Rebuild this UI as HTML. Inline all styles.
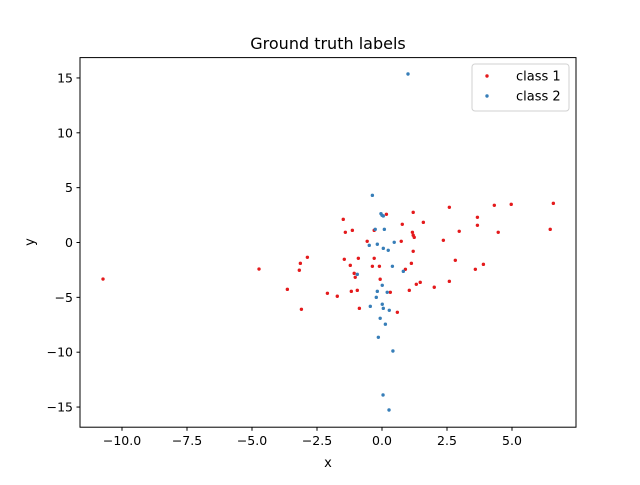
<!DOCTYPE html>
<html><head><meta charset="utf-8"><style>
body{margin:0;background:#fff;font-family:"Liberation Sans","DejaVu Sans",sans-serif;}
svg text{font-family:"DejaVu Sans","Liberation Sans",sans-serif;}
</style></head><body>
<svg id="chart" width="640" height="480" xmlns="http://www.w3.org/2000/svg">
<rect width="640" height="480" fill="#fff"/>
<text x="328" y="49" font-size="16" text-anchor="middle">Ground truth labels</text>
<g id="plot"></g>
<rect x="80" y="57.6" width="496" height="369.6" fill="none" stroke="#000" stroke-width="1"/>
<text x="328" y="467" font-size="13" text-anchor="middle">x</text>
<text x="34" y="242" font-size="13" text-anchor="middle" transform="rotate(-90 34 242)">y</text>
<g>
<rect x="472" y="64" width="97" height="47" rx="3" fill="#fff" stroke="#ccc" stroke-opacity="0.9"/>
<circle cx="487" cy="76" r="1.7" fill="#e41a1c"/>
<text x="516" y="80.5" font-size="13">class 1</text>
<circle cx="487" cy="96" r="1.7" fill="#377eb8"/>
<text x="516" y="100.5" font-size="13">class 2</text>
</g>
</svg>
<script>
const xTicks=[-10,-7.5,-5,-2.5,0,2.5,5];
const xTickLabels=["−10.0","−7.5","−5.0","−2.5","0.0","2.5","5.0"];
const yTicks=[-15,-10,-5,0,5,10,15];
const yTickLabels=["−15","−10","−5","0","5","10","15"];
const class1X=[0.17,1.20,2.59,-1.49,1.59,0.78,-1.41,-1.14,-0.30,1.17,1.20,1.24,2.97,2.36,0.74,-0.57,1.20,2.82,-2.87,-3.14,-3.18,-1.45,-0.91,-0.30,1.13,-1.22,-0.37,-0.10,0.90,-1.07,-1.03,-0.07,2.59,1.47,1.32,2.01,-3.64,-0.95,-1.18,1.05,0.32,-2.10,-1.72,-3.10,-0.87,0.59,4.32,4.97,6.59,3.67,3.67,4.47,6.47,3.59,3.90,-10.73,-4.73];
const class1Y=[2.57,2.75,3.21,2.11,1.84,1.66,0.93,1.11,1.11,0.93,0.66,0.47,1.02,0.20,0.11,0.11,-0.80,-1.62,-1.35,-1.90,-2.53,-1.53,-1.44,-1.44,-1.90,-2.08,-2.17,-2.17,-2.44,-2.81,-3.17,-3.35,-3.54,-3.63,-3.81,-4.08,-4.27,-4.36,-4.45,-4.36,-4.54,-4.63,-4.90,-6.09,-6.00,-6.36,3.39,3.48,3.57,2.30,1.57,0.93,1.20,-2.44,-1.99,-3.33,-2.42];
const class2X=[-0.37,-0.04,0.00,0.05,-0.26,0.09,-0.18,-0.49,0.05,0.24,0.47,0.40,0.82,-0.95,0.01,-0.18,0.20,-0.22,-0.45,0.01,0.05,0.28,-0.07,0.13,-0.14,1.00,0.42,0.04,0.27];
const class2Y=[4.30,2.63,2.48,2.42,1.20,1.20,-0.16,-0.26,-0.53,-0.71,0.02,-2.17,-2.63,-2.90,-3.90,-4.45,-4.54,-5.00,-5.82,-5.63,-6.00,-6.18,-6.91,-7.45,-8.64,15.36,-9.89,-13.90,-15.27];

const NS="http://www.w3.org/2000/svg";
const sx=v=>382+v*26;
const sy=v=>242.5-v*10.97;
const g=document.getElementById('plot');
function mk(tag,attrs){const e=document.createElementNS(NS,tag);for(const k in attrs)e.setAttribute(k,attrs[k]);return e;}
xTicks.forEach((t,i)=>{
  const x=sx(t);
  const l=mk('line',{x1:x,x2:x,y1:427.2,y2:430.7,stroke:'#000'});
  
  
  g.appendChild(l);
  const tx=mk('text',{x:x,y:445,'font-size':12.5,'text-anchor':'middle'});
  tx.textContent=xTickLabels[i];
  
  
  g.appendChild(tx);
});
yTicks.forEach((t,i)=>{
  const y=sy(t);
  const l=mk('line',{x1:76.5,x2:80,y1:y,y2:y,stroke:'#000'});
  
  
  g.appendChild(l);
  const tx=mk('text',{x:73,y:y+4.5,'font-size':12.5,'text-anchor':'end'});
  tx.textContent=yTickLabels[i];
  
  
  g.appendChild(tx);
});
class1X.forEach((v,i)=>{
  const c=mk('circle',{cx:sx(v),cy:sy(class1Y[i]),r:1.7,fill:'#e41a1c'});
  
  
  g.appendChild(c);
});
class2X.forEach((v,i)=>{
  const c=mk('circle',{cx:sx(v),cy:sy(class2Y[i]),r:1.7,fill:'#377eb8'});
  
  
  g.appendChild(c);
});
</script>
</body></html>
